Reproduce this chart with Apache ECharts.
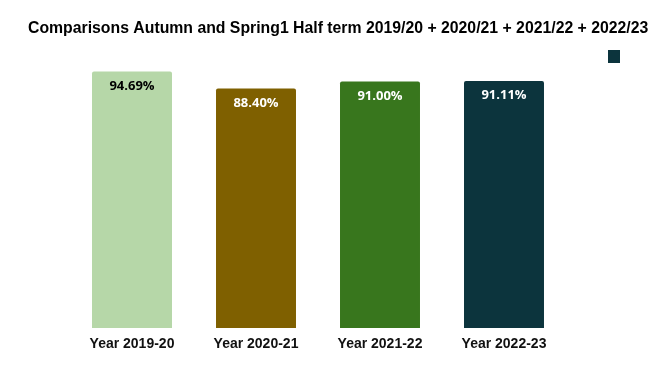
<!DOCTYPE html>
<html><head><meta charset="utf-8">
<script src="https://cdn.jsdelivr.net/npm/echarts@6/dist/echarts.min.js"></script>
<style>html,body{margin:0;padding:0;background:#fff}#c{width:670px;height:371px}</style>
</head><body><div id="c"></div>
<script>
const titleText = 'Comparisons Autumn and Spring1 Half term 2019/20 + 2020/21 + 2021/22 + 2022/23';
const categories = ['Year 2019-20', 'Year 2020-21', 'Year 2021-22', 'Year 2022-23'];
const values = [94.69, 88.40, 91.00, 91.11];
const barColors = ['#b6d7a8', '#7f6000', '#38761d', '#0c343d'];
const labelColors = ['#000000', '#ffffff', '#ffffff', '#ffffff'];

const chart = echarts.init(document.getElementById('c'), null, {renderer: 'canvas'});
chart.setOption({
  animation: false,
  title: {
    text: titleText, left: 23, top: 16,
    textStyle: {fontFamily: 'Liberation Sans', fontSize: 15.8, fontWeight: 'bold', color: '#000'}
  },
  legend: {
    data: [' '], right: 45, top: 45, itemWidth: 12, itemHeight: 13, icon: 'rect',
    formatter: () => '', itemGap: 0
  },
  grid: {left: 70, right: 104, top: 57, bottom: 43, containLabel: false},
  xAxis: {
    type: 'category', data: categories,
    axisLine: {show: false}, axisTick: {show: false},
    axisLabel: {fontFamily: 'Liberation Sans', fontSize: 14, fontWeight: 'bold', color: '#111', margin: 9}
  },
  yAxis: {type: 'value', min: 0, max: 100, show: false, splitLine: {show: false}},
  series: [{
    name: ' ', type: 'bar', barWidth: '64.5%',
    itemStyle: {color: '#0c343d'},
    data: values.map((v, i) => ({
      value: v,
      itemStyle: {color: barColors[i], borderRadius: [2, 2, 0, 0]},
      label: {color: labelColors[i]}
    })),
    label: {
      show: true, position: 'insideTop', distance: 8,
      fontFamily: 'Open Sans', fontWeight: 'bold', fontSize: 13,
      formatter: p => p.value.toFixed(2) + '%'
    }
  }]
});
</script></body></html>
